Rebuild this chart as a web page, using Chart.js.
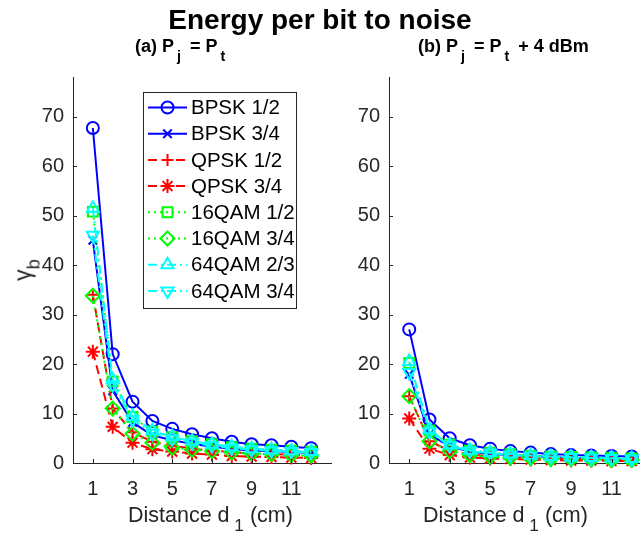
<!DOCTYPE html>
<html>
<head>
<meta charset="utf-8">
<script src="https://cdn.jsdelivr.net/npm/chart.js@4/dist/chart.umd.min.js"></script>
<style>
  html, body { margin: 0; padding: 0; background: #fff; }
  body { width: 640px; height: 535px; overflow: hidden; position: relative; font-family: "Liberation Sans", Arial, sans-serif; }
  canvas { position: absolute; top: 0; }
  .t { position: absolute; white-space: nowrap; line-height: 1; color: #000; }
  .t sub { font-size: 0.8em; vertical-align: -0.5em; line-height: 0; }
  .st sub { margin: 0 9px 0 3px; vertical-align: -0.65em; }
</style>
</head>
<body>
<canvas id="left" width="340" height="535" style="left:0"></canvas>
<canvas id="right" width="340" height="535" style="left:340px"></canvas>

<div class="t" id="title" style="left:0;width:640px;text-align:center;top:6px;font-size:28px;font-weight:bold;">Energy per bit to noise</div>
<div class="t st" style="left:135px;top:37px;font-size:18px;font-weight:bold;">(a) P<sub>j</sub>= P<sub>t</sub></div>
<div class="t st" style="left:418px;top:37px;font-size:18px;font-weight:bold;">(b) P<sub>j</sub>= P<sub>t</sub>+ 4 dBm</div>
<div class="t" style="left:128px;top:505px;font-size:21.5px;color:#262626;">Distance d<sub>&nbsp;1</sub>&nbsp;(cm)</div>
<div class="t" style="left:423px;top:505px;font-size:21.5px;color:#262626;">Distance d<sub>&nbsp;1</sub>&nbsp;(cm)</div>
<div class="t" style="left:23px;top:270px;font-size:23px;color:#262626;transform:translate(-50%,-50%) rotate(-90deg);">&gamma;<sub>b</sub></div>

<script>
// ---------------- data ----------------
const distances = [1, 2, 3, 4, 5, 6, 7, 8, 9, 10, 11, 12];
const xTickValues = [1, 3, 5, 7, 9, 11];
const yTickValues = [0, 10, 20, 30, 40, 50, 60, 70];
const seriesNames = ['BPSK 1/2', 'BPSK 3/4', 'QPSK 1/2', 'QPSK 3/4', '16QAM 1/2', '16QAM 3/4', '64QAM 2/3', '64QAM 3/4'];

// (a) Pj = Pt
const bpsk12A  = [67.7, 22.0, 12.4, 8.5, 6.9, 5.8, 5.0, 4.3, 3.8, 3.6, 3.3, 3.0];
const bpsk34A  = [45.0, 14.6, 8.2, 5.6, 4.6, 3.9, 3.3, 2.9, 2.5, 2.4, 2.2, 2.0];
const qpsk12A  = [34.0, 11.0, 6.2, 4.3, 3.5, 2.9, 2.5, 2.2, 1.9, 1.8, 1.7, 1.5];
const qpsk34A  = [22.5, 7.3, 4.1, 2.8, 2.3, 1.9, 1.7, 1.4, 1.3, 1.2, 1.1, 1.0];
const qam16_12A = [50.8, 16.5, 9.3, 6.4, 5.2, 4.4, 3.8, 3.2, 2.9, 2.7, 2.5, 2.3];
const qam16_34A = [33.8, 11.0, 5.9, 4.1, 3.1, 2.7, 2.4, 2.1, 1.9, 1.8, 1.6, 1.5];
const qam64_23A = [51.5, 16.8, 9.4, 6.5, 5.3, 4.4, 3.8, 3.3, 2.9, 2.7, 2.5, 2.3];
const qam64_34A = [46.0, 15.8, 8.8, 6.0, 4.9, 4.1, 3.5, 3.0, 2.7, 2.5, 2.3, 2.1];

// (b) Pj = Pt + 4 dBm
const bpsk12B  = [27.0, 8.8, 5.0, 3.6, 2.9, 2.4, 2.1, 1.8, 1.6, 1.5, 1.4, 1.3];
const bpsk34B  = [17.9, 5.8, 3.3, 2.3, 1.8, 1.6, 1.4, 1.2, 1.0, 1.0, 0.9, 0.8];
const qpsk12B  = [13.5, 4.4, 2.5, 1.7, 1.4, 1.2, 1.0, 0.9, 0.8, 0.7, 0.7, 0.6];
const qpsk34B  = [9.0, 2.9, 1.6, 1.1, 0.9, 0.8, 0.7, 0.6, 0.5, 0.5, 0.4, 0.4];
const qam16_12B = [20.2, 6.6, 3.7, 2.5, 2.1, 1.8, 1.5, 1.3, 1.2, 1.1, 1.0, 0.9];
const qam16_34B = [13.5, 4.4, 2.4, 1.6, 1.3, 1.1, 1.0, 0.8, 0.8, 0.7, 0.6, 0.6];
const qam64_23B = [20.5, 6.7, 3.7, 2.6, 2.1, 1.8, 1.5, 1.3, 1.2, 1.1, 1.0, 0.9];
const qam64_34B = [18.3, 6.3, 3.5, 2.4, 2.0, 1.6, 1.4, 1.2, 1.1, 1.0, 0.9, 0.8];

const seriesA = [bpsk12A, bpsk34A, qpsk12A, qpsk34A, qam16_12A, qam16_34A, qam64_23A, qam64_34A];
const seriesB = [bpsk12B, bpsk34B, qpsk12B, qpsk34B, qam16_12B, qam16_34B, qam64_23B, qam64_34B];

// ---------------- styles ----------------
const styles = [
  { color: '#0000ff', dash: [],            point: 'circle',   radius: 6 },
  { color: '#0000ff', dash: [],            point: 'crossRot', radius: 6 },
  { color: '#ff0000', dash: [9, 5],        point: 'cross',    radius: 6 },
  { color: '#ff0000', dash: [9, 5],        point: 'star',     radius: 7 },
  { color: '#00ff00', dash: [2, 4],        point: 'rect',     radius: 7 },
  { color: '#00ff00', dash: [2, 4],        point: 'rectRot',  radius: 7 },
  { color: '#00ffff', dash: [9, 4, 2, 4],  point: 'triangle', radius: 7 },
  { color: '#00ffff', dash: [9, 4, 2, 4],  point: 'triangle', radius: 7, rot: 180 }
];

function makeDatasets(series) {
  return series.map((vals, i) => ({
    label: seriesNames[i],
    data: distances.map((d, k) => ({ x: d, y: vals[k] })),
    borderColor: styles[i].color,
    backgroundColor: 'rgba(0,0,0,0)',
    borderWidth: 2,
    borderDash: styles[i].dash,
    pointStyle: styles[i].point,
    pointRadius: styles[i].radius,
    pointRotation: styles[i].rot || 0,
    pointBorderWidth: 2,
    pointBorderColor: styles[i].color,
    pointBackgroundColor: 'rgba(0,0,0,0)',
    tension: 0,
    fill: false,
    order: 10 - i,
    clip: false
  }));
}

const AXIS = '#262626';
const tickFont = { family: '"Liberation Sans", Arial, sans-serif', size: 20 };

const inwardTicks = {
  id: 'inwardTicks',
  afterDraw(chart) {
    const { ctx, chartArea: a, scales } = chart;
    ctx.save();
    ctx.strokeStyle = AXIS; ctx.lineWidth = 1;
    scales.x.ticks.forEach(t => {
      const px = Math.round(scales.x.getPixelForValue(t.value)) + 0.5;
      ctx.beginPath(); ctx.moveTo(px, a.bottom); ctx.lineTo(px, a.bottom - 4); ctx.stroke();
    });
    scales.y.ticks.forEach(t => {
      const py = Math.round(scales.y.getPixelForValue(t.value)) + 0.5;
      ctx.beginPath(); ctx.moveTo(a.left, py); ctx.lineTo(a.left + 4, py); ctx.stroke();
    });
    ctx.restore();
  }
};

function drawMarker(ctx, ds, x, y) {
  const H = Chart.helpers;
  ctx.save();
  ctx.strokeStyle = ds.borderColor; ctx.fillStyle = 'rgba(0,0,0,0)';
  ctx.lineWidth = ds.pointBorderWidth; ctx.setLineDash([]);
  if (H && H.drawPoint) {
    H.drawPoint(ctx, { pointStyle: ds.pointStyle, rotation: ds.pointRotation, radius: ds.pointRadius, borderWidth: ds.pointBorderWidth }, x, y);
  } else {
    ctx.beginPath(); ctx.arc(x, y, ds.pointRadius, 0, Math.PI * 2); ctx.stroke();
  }
  ctx.restore();
}

const boxLegend = {
  id: 'boxLegend',
  afterDraw(chart, args, opts) {
    if (!opts || !opts.show) return;
    const ctx = chart.ctx;
    const { x, y, w, h, first, step } = opts;
    ctx.save();
    ctx.fillStyle = '#fff'; ctx.fillRect(x, y, w, h);
    ctx.strokeStyle = AXIS; ctx.lineWidth = 1; ctx.setLineDash([]);
    ctx.strokeRect(x + 0.5, y + 0.5, w, h);
    const dss = chart.data.datasets;
    dss.forEach((ds, i) => {
      const cy = y + first + i * step;
      ctx.strokeStyle = ds.borderColor; ctx.lineWidth = ds.borderWidth;
      ctx.setLineDash(ds.borderDash || []);
      ctx.beginPath(); ctx.moveTo(x + 5, cy); ctx.lineTo(x + 44, cy); ctx.stroke();
      ctx.setLineDash([]);
      drawMarker(ctx, ds, x + 24.5, cy);
      ctx.fillStyle = '#000';
      ctx.font = '20.5px "Liberation Sans", Arial, sans-serif';
      ctx.textBaseline = 'middle'; ctx.textAlign = 'left';
      ctx.fillText(ds.label, x + 48, cy + 1);
    });
    ctx.restore();
  }
};

function makeChart(id, series, yAxisWidth, padRight, legend) {
  return new Chart(document.getElementById(id), {
    type: 'line',
    data: { datasets: makeDatasets(series) },
    plugins: [inwardTicks, boxLegend],
    options: {
      responsive: false,
      animation: false,
      devicePixelRatio: 1,
      events: [],
      layout: { padding: { top: 77, right: padRight, left: 0, bottom: 0 } },
      plugins: {
        legend: { display: false },
        tooltip: { enabled: false },
        title: { display: false },
        boxLegend: legend
      },
      scales: {
        x: {
          type: 'linear', min: 0, max: 13,
          afterBuildTicks: s => { s.ticks = xTickValues.map(v => ({ value: v })); },
          afterFit: s => { s.height = 72; },
          grid: { display: true, drawOnChartArea: false, drawTicks: false },
          border: { display: true, color: AXIS, width: 1 },
          ticks: { font: tickFont, color: AXIS, padding: 14, maxRotation: 0, autoSkip: false }
        },
        y: {
          type: 'linear', min: 0, max: 78,
          afterBuildTicks: s => { s.ticks = yTickValues.map(v => ({ value: v })); },
          afterFit: s => { s.width = yAxisWidth; },
          grid: { display: true, drawOnChartArea: false, drawTicks: false },
          border: { display: true, color: AXIS, width: 1 },
          ticks: { font: tickFont, color: AXIS, padding: 9 }
        }
      }
    }
  });
}

makeChart('left', seriesA, 73, 6, { show: true, x: 143, y: 92, w: 153, h: 216, first: 15.5, step: 26.2 });
makeChart('right', seriesB, 49, 28, { show: false });
</script>
</body>
</html>
